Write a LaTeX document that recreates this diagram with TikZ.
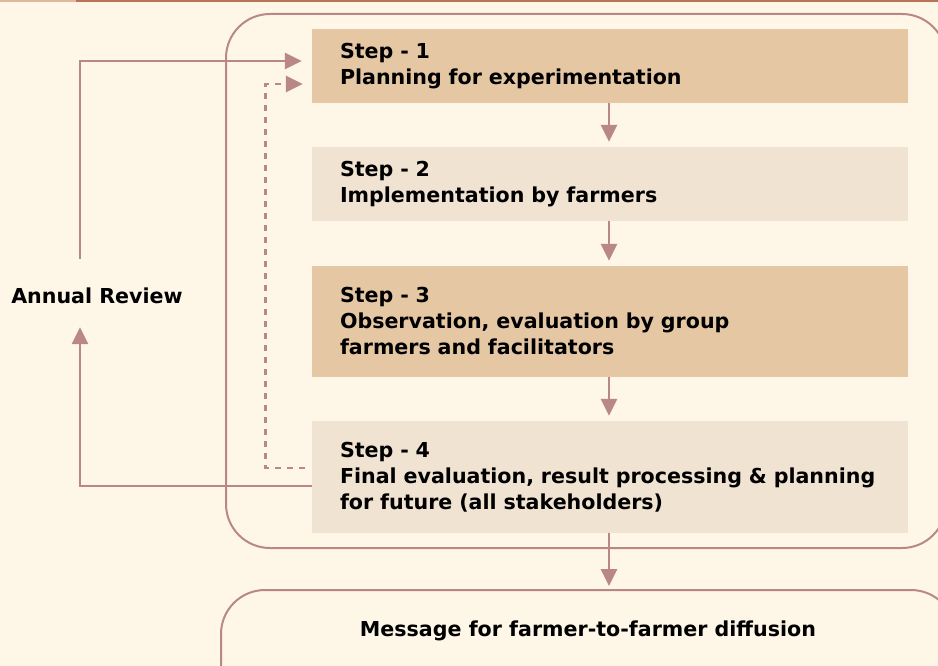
\documentclass[tikz,border=0pt]{standalone}
\usepackage{fontspec}
\setmainfont{DejaVu Sans}
\usetikzlibrary{arrows.meta}
\definecolor{pagebg}{HTML}{FEF6E6}
\definecolor{boxdark}{HTML}{E5C7A4}
\definecolor{boxlight}{HTML}{F1E3D2}
\definecolor{linkcol}{HTML}{B98886}
\definecolor{bartop}{HTML}{B87358}
\definecolor{bartopl}{HTML}{E0B89A}
\newcommand{\labelfont}{\fontsize{20.6}{26}\selectfont\bfseries}
\tikzset{
  stepbox/.style={rectangle, inner xsep=28pt, inner ysep=0pt, text width=540pt,
    minimum height=#1, align=left, font=\labelfont, text=black},
  link/.style={draw=linkcol, line width=2.8pt, -{Triangle[length=17pt,width=16pt]}},
  dashlink/.style={link, dash pattern=on 6pt off 6pt},
  frame/.style={draw=linkcol, line width=2pt, rounded corners=44pt},
}
\begin{document}
\begin{tikzpicture}[x=1pt,y=-1pt]
  \useasboundingbox (0,0) rectangle (938,666);
  \fill[pagebg] (0,0) rectangle (938,666);
  % top rule
  \fill[bartopl] (0,0) rectangle (76,2.5);
  \fill[bartop] (76,0) rectangle (938,2.5);

  % outer frame around the four steps, and the message box
  \draw[frame] (226,14) rectangle (946,548);
  \draw[frame] (221,590) rectangle (955,710);

  % steps
  \node[stepbox=74pt, fill=boxdark] (s1) at (610,66)
    {Step - 1\\Planning for experimentation};
  \node[stepbox=74pt, fill=boxlight] (s2) at (610,184)
    {Step - 2\\Implementation by farmers};
  \node[stepbox=111pt, fill=boxdark] (s3) at (610,321.5)
    {Step - 3\\Observation, evaluation by group\\farmers and facilitators};
  \node[stepbox=112pt, fill=boxlight] (s4) at (610,477)
    {Step - 4\\Final evaluation, result processing \& planning\\for future (all stakeholders)};

  \node[font=\labelfont, inner sep=0pt] (msg) at (588,631)
    {Message for farmer-to-farmer diffusion};
  \coordinate (msgtop) at (609,586);

  \node[font=\labelfont, inner sep=0pt, minimum height=74pt] (ar) at (97,296)
    {Annual Review};

  % flow between steps
  \draw[link, shorten >=5pt] ([xshift=-1pt]s1.south) -- ([xshift=-1pt]s2.north);
  \draw[link, shorten >=5pt] ([xshift=-1pt]s2.south) -- ([xshift=-1pt]s3.north);
  \draw[link, shorten >=5pt] ([xshift=-1pt]s3.south) -- ([xshift=-1pt]s4.north);
  \draw[link] ([xshift=-1pt]s4.south) -- (msgtop);

  % annual review loop
  \draw[link] ([yshift=-9pt]s4.west) -| ([xshift=-17pt,yshift=6pt]ar.south);
  \draw[link, shorten >=10pt] ([xshift=-17pt]ar.north) |- ([yshift=5pt]s1.west);

  % dashed feedback loop
  \draw[dashlink, shorten <=7pt, shorten >=9pt] ([yshift=9pt]s4.west) -- ++(-46,0) |- ([yshift=-18pt]s1.west);
\end{tikzpicture}
\end{document}
